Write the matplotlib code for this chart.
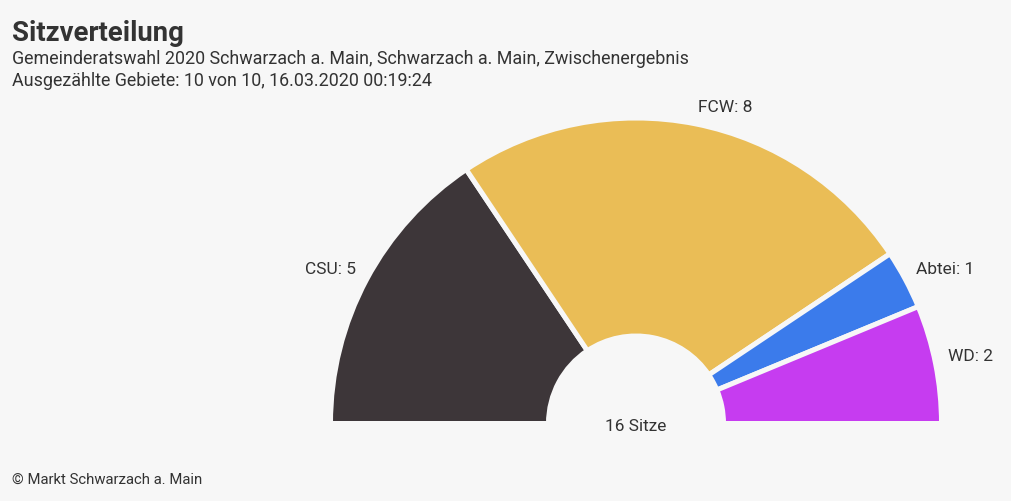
import matplotlib
matplotlib.use("Agg")
import matplotlib.pyplot as plt
import numpy as np

parties = ["CSU", "FCW", "Abtei", "WD"]
seats = [5, 8, 1, 2]
colors = ["#3d3639", "#eabd56", "#3b7beb", "#c63cf0"]
title = "Sitzverteilung"
subtitle1 = "Gemeinderatswahl 2020 Schwarzach a. Main, Schwarzach a. Main, Zwischenergebnis"
subtitle2 = "Ausgezählte Gebiete: 10 von 10, 16.03.2020 00:19:24"
center_label = "16 Sitze"
footer = "© Markt Schwarzach a. Main"

BG = "#f7f7f7"
TXT = "#333333"
W, H = 1011, 502
plt.rcParams['font.family'] = ['Roboto', 'DejaVu Sans']

fig = plt.figure(figsize=(W / 100, H / 100), dpi=100, facecolor=BG)
ax = fig.add_axes([0, 0, 1, 1])
ax.set_facecolor(BG)

cx, cy = 636, H - 424.5
R, r_in = 305.5, 87.5
total = sum(seats)
vals = seats + [total]
cols = colors + ["none"]
wedges, _ = ax.pie(vals, colors=cols, startangle=180, counterclock=False,
                   radius=R, center=(cx, cy),
                   wedgeprops=dict(width=R - r_in, edgecolor=BG, linewidth=3.6))
wedges[-1].set_edgecolor("none")

# labels
start = 180.0
lcx, lcy = 636, H - 422
for p, s in zip(parties, seats):
    span = 180.0 * s / total
    mid = np.deg2rad(start - span / 2)
    start -= span
    lr = 318
    x = lcx + lr * np.cos(mid)
    y = lcy + lr * np.sin(mid) + 3
    c = np.cos(mid)
    ha = "left" if c > 0 else "right"
    ax.text(x, y, f"{p}: {s}", ha=ha, va="center", fontsize=12.5, color=TXT)

ax.text(636, H - 427, center_label, ha="center", va="center", fontsize=12.4, color=TXT)

ax.set_xlim(0, W)
ax.set_ylim(0, H)
ax.set_aspect("auto")
ax.axis("off")

fig.text(12 / W, 1 - 34 / H, title, fontsize=19.8, fontweight="bold", color=TXT, va="center", ha="left")
fig.text(12 / W, 1 - 59.5 / H, subtitle1, fontsize=12.9, color=TXT, va="center", ha="left")
fig.text(12 / W, 1 - 81.5 / H, subtitle2, fontsize=12.9, color=TXT, va="center", ha="left")
fig.text(12 / W, 1 - 480 / H, footer, fontsize=10.7, color=TXT, va="center", ha="left")

fig.savefig("out.png", dpi=100, facecolor=BG)
